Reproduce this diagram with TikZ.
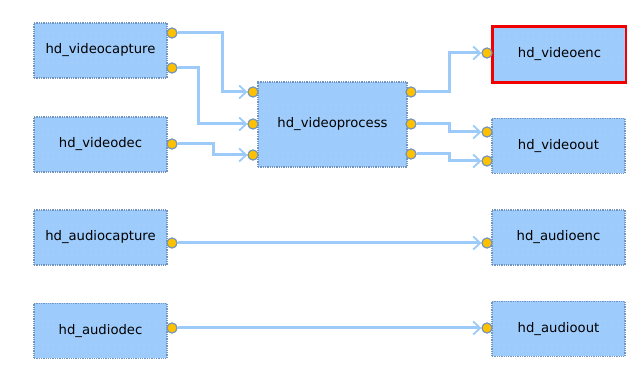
\documentclass[tikz,border=0pt]{standalone}
\usepackage{fontspec}
\setmainfont{DejaVu Sans}
\usepackage{xcolor}
\usetikzlibrary{positioning, arrows.meta, patterns.meta}
\definecolor{boxfill}{HTML}{9DCBFB}
\definecolor{boxedge}{HTML}{7093BF}
\definecolor{wirec}{HTML}{9CCBFA}
\definecolor{portc}{HTML}{FFC000}
\definecolor{hilite}{HTML}{F00000}

\begin{document}
\begin{tikzpicture}[x=1pt, y=-1pt, font=\fontsize{13.2}{16}\selectfont,
  module/.style={rectangle, draw=boxedge, densely dotted, line width=1.3pt, fill=boxfill,
    postaction={pattern={Dots[distance=6pt, radius=0.45pt]}, pattern color=white!70!boxfill},
    minimum width=133pt, minimum height=55pt, inner sep=0pt},
  port/.style={circle, draw=boxedge, line width=1pt, fill=portc, minimum size=10pt, inner sep=0pt},
  wire/.style={draw=wirec, line width=3pt, -{Straight Barb[length=7pt, width=13pt, line width=1.8pt]}}]
  \useasboundingbox (0,0) rectangle (627,387);

  % modules
  \node[module] (vcap) at (100.5,50.5) {hd\_videocapture};
  \node[module] (vdec) at (100.5,144.5) {hd\_videodec};
  \node[module, minimum width=149pt, minimum height=85pt] (vproc) at (332.5,124.5) {hd\_videoprocess};
  \node[module] (venc) at (559.5,54.5) {hd\_videoenc};
  \draw[hilite, line width=2.4pt] (venc.north west) rectangle (venc.south east);
  \node[module] (vout) at (558.5,146) {hd\_videoout};
  \node[module] (acap) at (100.5,237.5) {hd\_audiocapture};
  \node[module] (adec) at (100.5,331) {hd\_audiodec};
  \node[module] (aenc) at (558.5,237.5) {hd\_audioenc};
  \node[module] (aout) at (558.5,329) {hd\_audioout};

  % ports
  \node[port] (vcapo1) at (172,33) {};
  \node[port] (vcapo2) at (172,68) {};
  \node[port] (vdeco) at (172,144) {};
  \node[port] (vproci1) at (253,92) {};
  \node[port] (vproci2) at (253,124) {};
  \node[port] (vproci3) at (253,155) {};
  \node[port] (vproco1) at (411,92) {};
  \node[port] (vproco2) at (411,124) {};
  \node[port] (vproco3) at (411,154) {};
  \node[port] (venci) at (487,53) {};
  \node[port] (vouti1) at (487,132) {};
  \node[port] (vouti2) at (487,161) {};
  \node[port] (acapo) at (172,243) {};
  \node[port] (aenci) at (487,243) {};
  \node[port] (adeco) at (172,328) {};
  \node[port] (aouti) at (487,328) {};

  % links
  \draw[wire] (vcapo1) -- ++(50,0) |- (vproci1);
  \draw[wire] (vcapo2) -- ++(26,0) |- (vproci2);
  \draw[wire] (vdeco) -- ++(41,0) |- (vproci3);
  \draw[wire] (vproco1) -- ++(38,0) |- (venci);
  \draw[wire] (vproco2) -- ++(38,0) |- (vouti1);
  \draw[wire] (vproco3) -- ++(38,0) |- (vouti2);
  \draw[wire] (acapo) -- (aenci);
  \draw[wire] (adeco) -- (aouti);

  % ports go on top of the wire ends
  \foreach \p in {vcapo1,vcapo2,vdeco,vproci1,vproci2,vproci3,vproco1,vproco2,vproco3,venci,vouti1,vouti2,acapo,aenci,adeco,aouti}
    \draw[boxedge, line width=1pt, fill=portc] (\p) circle (5pt);
\end{tikzpicture}
\end{document}
